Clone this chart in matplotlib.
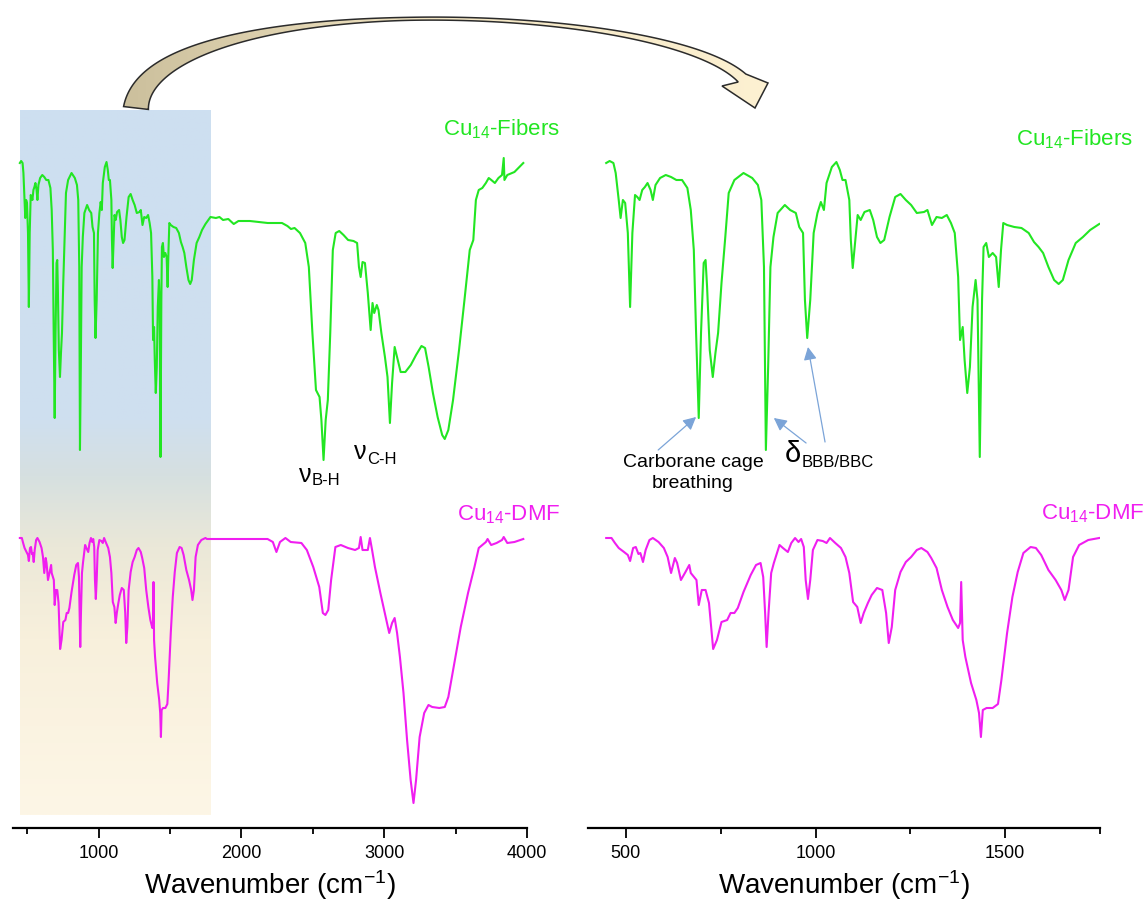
import numpy as np
import matplotlib.pyplot as plt
from matplotlib.patches import Polygon
from matplotlib.colors import LinearSegmentedColormap

plt.rcParams['font.family'] = ['Liberation Sans', 'DejaVu Sans']
plt.rcParams['mathtext.fontset'] = 'custom'
plt.rcParams['mathtext.rm'] = 'Liberation Sans'
plt.rcParams['mathtext.it'] = 'Liberation Sans:italic'
plt.rcParams['mathtext.bf'] = 'Liberation Sans:bold'
plt.rcParams['mathtext.default'] = 'regular'

# ── data (wavenumber cm-1, offset transmittance a.u.) ─────────────────────────
fib_low = [(448, 665), (457, 667), (467, 665), (473, 655), (481, 628), (486, 610), (492, 628),
           (498, 625), (505, 595), (511, 521), (517, 595), (524, 633), (530, 631), (536, 628),
           (543, 638), (550, 641), (557, 645), (565, 638), (571, 628), (578, 643), (590, 650),
           (605, 653), (619, 651), (633, 648), (648, 648), (662, 640), (671, 618), (679, 578),
           (685, 495), (692, 410), (698, 495), (705, 565), (710, 568), (714, 541), (721, 478),
           (729, 451), (736, 475), (743, 495), (752, 545), (762, 591), (771, 635), (786, 648),
           (810, 655), (833, 650), (848, 643), (857, 628), (864, 561), (869, 378), (875, 461),
           (881, 561), (889, 591), (900, 615), (919, 623), (933, 618), (948, 615), (957, 601),
           (967, 595), (972, 528), (978, 490), (986, 528), (995, 595), (1005, 615), (1014, 626),
           (1022, 618), (1029, 645), (1043, 661), (1055, 666), (1064, 658), (1071, 648),
           (1079, 648), (1089, 628), (1093, 588), (1098, 560), (1105, 588), (1111, 613),
           (1119, 608), (1129, 616), (1143, 618), (1152, 608), (1162, 591), (1171, 585),
           (1181, 588), (1195, 611), (1210, 631), (1224, 634), (1238, 628), (1252, 623),
           (1267, 615), (1286, 616), (1295, 618), (1307, 603), (1319, 611), (1333, 610),
           (1346, 613), (1357, 605), (1367, 595), (1376, 551), (1381, 488), (1388, 501),
           (1393, 468), (1400, 435), (1407, 461), (1414, 521), (1422, 548), (1427, 528),
           (1433, 371), (1439, 528), (1443, 581), (1450, 585), (1457, 571), (1467, 575),
           (1476, 571), (1483, 541), (1489, 578), (1495, 605), (1505, 603), (1524, 601),
           (1543, 600), (1562, 595), (1576, 586), (1588, 581), (1600, 575), (1614, 561),
           (1629, 548), (1641, 544), (1652, 548), (1667, 568), (1686, 585), (1705, 591),
           (1724, 598), (1748, 604)]
fib_high = [(1783, 611), (1821, 610), (1846, 611), (1871, 608), (1908, 609), (1946, 604),
            (1979, 607), (2059, 607), (2184, 605), (2284, 605), (2322, 602), (2347, 599),
            (2372, 600), (2410, 595), (2447, 585), (2472, 561), (2497, 495), (2522, 438),
            (2547, 431), (2560, 408), (2575, 368), (2590, 408), (2605, 428), (2622, 495),
            (2640, 578), (2660, 595), (2685, 597), (2715, 593), (2747, 588), (2785, 587),
            (2810, 585), (2823, 561), (2835, 551), (2848, 566), (2865, 565), (2885, 535),
            (2905, 498), (2918, 525), (2930, 515), (2948, 523), (2960, 518), (2980, 495),
            (3005, 471), (3023, 451), (3040, 405), (3055, 445), (3073, 481), (3090, 471),
            (3115, 456), (3148, 456), (3186, 463), (3223, 473), (3261, 482), (3286, 480),
            (3311, 461), (3341, 435), (3374, 411), (3406, 393), (3424, 389), (3449, 398),
            (3482, 428), (3524, 478), (3562, 528), (3599, 578), (3624, 588), (3642, 628),
            (3662, 638), (3687, 640), (3712, 645), (3732, 650), (3750, 648), (3775, 645),
            (3800, 650), (3825, 653), (3837, 670), (3842, 648), (3862, 653), (3912, 656),
            (3974, 665)]

dmf_low = [(448, 290), (462, 290), (471, 285), (481, 280), (495, 276), (505, 273), (511, 267),
           (519, 280), (526, 281), (533, 274), (538, 275), (545, 266), (552, 278), (562, 288),
           (571, 290), (586, 286), (600, 280), (610, 271), (619, 255), (629, 270), (635, 265),
           (645, 248), (657, 256), (667, 263), (671, 255), (686, 248), (692, 223), (700, 238),
           (710, 238), (719, 225), (730, 179), (740, 188), (752, 206), (767, 208), (776, 215),
           (786, 215), (795, 220), (810, 236), (829, 253), (843, 263), (855, 265), (862, 251),
           (867, 215), (871, 181), (876, 215), (883, 255), (890, 265), (905, 283), (914, 280),
           (927, 276), (936, 285), (946, 290), (955, 286), (962, 289), (969, 281), (974, 248),
           (980, 229), (986, 248), (993, 278), (1005, 288), (1019, 287), (1029, 285),
           (1038, 290), (1052, 285), (1067, 280), (1079, 271), (1089, 255), (1099, 226),
           (1110, 221), (1119, 205), (1127, 215), (1138, 225), (1148, 233), (1162, 240),
           (1176, 238), (1186, 215), (1193, 185), (1201, 201), (1210, 238), (1224, 256),
           (1238, 266), (1252, 271), (1267, 278), (1279, 280), (1295, 276), (1305, 270),
           (1319, 260), (1333, 238), (1348, 221), (1362, 208), (1376, 200), (1381, 205),
           (1384, 246), (1388, 188), (1395, 171), (1410, 145), (1424, 128), (1431, 115),
           (1436, 91), (1441, 118), (1451, 120), (1467, 120), (1481, 124), (1490, 148),
           (1505, 195), (1519, 231), (1533, 256), (1548, 275), (1567, 281), (1581, 280),
           (1595, 273), (1614, 258), (1633, 248), (1648, 238), (1657, 228), (1667, 238),
           (1679, 271), (1695, 283), (1719, 288), (1748, 290)]
dmf_high = [(1758, 289), (1808, 289), (1933, 289), (2058, 289), (2183, 289), (2220, 286),
            (2245, 276), (2270, 286), (2308, 290), (2345, 286), (2420, 285), (2458, 278),
            (2503, 261), (2545, 241), (2570, 215), (2588, 213), (2608, 218), (2628, 248),
            (2658, 281), (2696, 283), (2746, 280), (2796, 278), (2823, 280), (2835, 291),
            (2848, 278), (2885, 278), (2900, 290), (2915, 278), (2935, 261), (2973, 235),
            (3010, 211), (3035, 195), (3055, 205), (3073, 210), (3090, 195), (3110, 171),
            (3135, 135), (3160, 88), (3185, 48), (3205, 25), (3223, 48), (3248, 91),
            (3280, 115), (3310, 123), (3336, 121), (3386, 120), (3424, 121), (3449, 131),
            (3486, 161), (3536, 201), (3587, 235), (3632, 261), (3662, 280), (3712, 286),
            (3724, 289), (3749, 283), (3787, 285), (3825, 288), (3837, 291), (3862, 285),
            (3912, 286), (3974, 289)]

fib = np.array(fib_low + fib_high, dtype=float)
dmf = np.array(dmf_low + dmf_high, dtype=float)

GREEN = "#22e622"
MAGENTA = "#f01ef0"
ARROW_BLUE = "#7ba4d8"

# ── figure ────────────────────────────────────────────────────────────────────
W, H = 1143, 909
fig = plt.figure(figsize=(W / 100, H / 100), dpi=100)
ax1 = fig.add_axes([13 / W, 1 - 828 / H, 514 / W, 720 / H])
ax2 = fig.add_axes([588 / W, 1 - 828 / H, 512 / W, 720 / H])

for ax, lim, major, minor in [(ax1, (400, 4000), [1000, 2000, 3000, 4000], [500, 1500, 2500, 3500]),
                              (ax2, (400, 1750), [500, 1000, 1500], [750, 1250, 1750])]:
    ax.set_xlim(*lim)
    ax.set_ylim(0, 720)
    ax.set_facecolor("none")
    for s in ["top", "left", "right"]:
        ax.spines[s].set_visible(False)
    ax.spines["bottom"].set_linewidth(1.6)
    ax.set_yticks([])
    ax.set_xticks(major)
    ax.set_xticks(minor, minor=True)
    ax.tick_params(axis="x", which="major", length=7.5, width=1.3, labelsize=13, pad=5)
    ax.tick_params(axis="x", which="minor", length=4, width=1.3)
    ax.set_xlabel("Wavenumber (cm$^{-1}$)", fontsize=20, labelpad=4)

# shaded region (blue → beige)
shade = LinearSegmentedColormap.from_list("shade", [
    (0.0, "#cddff1"), (0.44, "#cfdfef"), (0.52, "#d6e0e0"),
    (0.62, "#ebe8d8"), (0.75, "#f8f0dc"), (1.0, "#fdf6e6")])
ax1.imshow(np.linspace(0, 1, 256)[:, None], cmap=shade, aspect="auto",
           extent=[446, 1778, 13, 718], origin="upper", zorder=0)
ax1.set_xlim(400, 4000)
ax1.set_ylim(0, 720)

# spectra
ax1.plot(fib[:, 0], fib[:, 1], color=GREEN, lw=1.5, zorder=2)
ax1.plot(dmf[:, 0], dmf[:, 1], color=MAGENTA, lw=1.5, zorder=2)
fm = fib[:, 0] <= 1750
dm = dmf[:, 0] <= 1750
ax2.plot(fib[fm, 0], fib[fm, 1], color=GREEN, lw=1.5)
ax2.plot(dmf[dm, 0], dmf[dm, 1], color=MAGENTA, lw=1.5)

# sample labels
ax1.text(4231, 693, "Cu$_{14}$-Fibers", color=GREEN, fontsize=16, ha="right", va="baseline", clip_on=False)
ax1.text(4231, 308, "Cu$_{14}$-DMF", color=MAGENTA, fontsize=16, ha="right", va="baseline", clip_on=False)
ax2.text(1838, 683, "Cu$_{14}$-Fibers", color=GREEN, fontsize=16, ha="right", va="baseline", clip_on=False)
ax2.text(1866, 309, "Cu$_{14}$-DMF", color=MAGENTA, fontsize=16, ha="right", va="baseline", clip_on=False)


def sub_label(ax, x, y, main, sub, size, subsize, drop):
    ax.annotate(main, (x, y), ha="right", va="baseline", fontsize=size)
    ax.annotate(sub, (x, y), xytext=(0.3, -drop), textcoords="offset points",
                ha="left", va="baseline", fontsize=subsize)


sub_label(ax1, 2491, 346, "ν", "B-H", 18, 12, 2.4)
sub_label(ax1, 2880, 369, "ν", "C-H", 18, 12, 3.5)
sub_label(ax2, 961, 366, "δ", "BBB/BBC", 21, 12, 3.6)

ax2.text(677, 355, "Carborane cage\nbreathing", fontsize=14, ha="center", va="center",
         linespacing=1.25)

arrow_kw = dict(arrowstyle="-|>,head_length=0.55,head_width=0.28", color=ARROW_BLUE,
                lw=0.9, mutation_scale=14, shrinkA=0, shrinkB=0)
ax2.annotate("", xy=(685, 411), xytext=(585, 378), arrowprops=arrow_kw)
ax2.annotate("", xy=(890, 410), xytext=(975, 385), arrowprops=arrow_kw)
ax2.annotate("", xy=(980, 481), xytext=(1025, 386), arrowprops=arrow_kw)

# ── curved arrow overlay (figure pixel coordinates) ───────────────────────────
ov = fig.add_axes([0, 0, 1, 1], zorder=5)
ov.set_facecolor("none")
ctrl = np.array([[136, 108], [150, -12], [660, 0], [742, 78]], dtype=float)
t = np.linspace(0, 1, 300)[:, None]
c = ((1 - t) ** 3 * ctrl[0] + 3 * (1 - t) ** 2 * t * ctrl[1]
     + 3 * (1 - t) * t ** 2 * ctrl[2] + t ** 3 * ctrl[3])
d = (3 * (1 - t) ** 2 * (ctrl[1] - ctrl[0]) + 6 * (1 - t) * t * (ctrl[2] - ctrl[1])
     + 3 * t ** 2 * (ctrl[3] - ctrl[2]))
d /= np.linalg.norm(d, axis=1, keepdims=True)
n = np.column_stack([-d[:, 1], d[:, 0]])
tt = t[:, 0]
w = np.where(tt <= 0.5, 3 + 22 * ((0.5 - tt) / 0.5) ** 1.6, 3 + 8 * ((tt - 0.5) / 0.5) ** 2)
inner = c + n * w[:, None] / 2
outer = c - n * w[:, None] / 2
head = np.array([[722, 86], [755, 108], [768, 83]], dtype=float)
pts = np.vstack([inner, head, outer[::-1]])
poly = Polygon(pts, closed=True, facecolor="none", edgecolor="#2b2b2b", lw=1.1, zorder=3)
ov.add_patch(poly)
arr_cmap = LinearSegmentedColormap.from_list("arr", ["#cbbf9c", "#f3e6c4", "#fdf1d2"])
im = ov.imshow(np.linspace(0, 1, 256)[None, :], cmap=arr_cmap, aspect="auto",
               extent=[120, 775, 112, 0], origin="upper", zorder=2)
im.set_clip_path(poly)
ov.set_xlim(0, W)
ov.set_ylim(H, 0)
ov.axis("off")

plt.savefig("out.png", dpi=100)
plt.close()
